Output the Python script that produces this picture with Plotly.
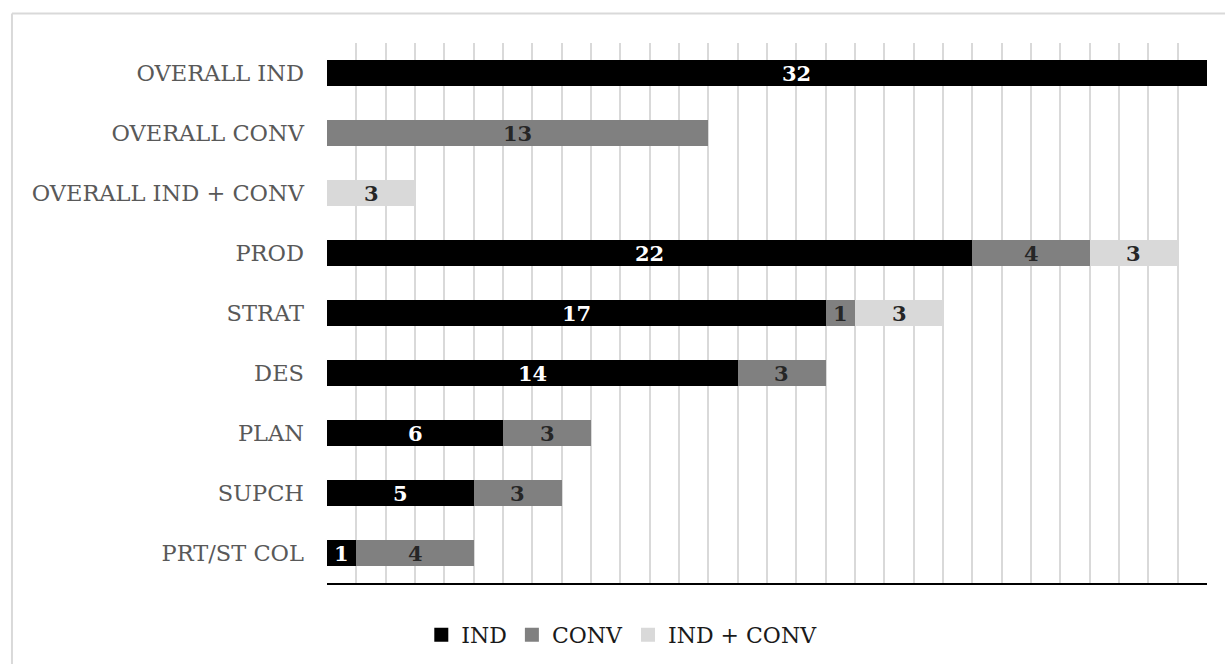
import plotly.graph_objects as go

# Categories, top to bottom
categories = ["OVERALL IND", "OVERALL CONV", "OVERALL IND + CONV", "PROD",
              "STRAT", "DES", "PLAN", "SUPCH", "PRT/ST COL"]

# Counts per series (None = no segment)
ind_vals = [32, None, None, 22, 17, 14, 6, 5, 1]
conv_vals = [None, 13, None, 4, 1, 3, 3, 3, 4]
both_vals = [None, None, 3, 3, 3, None, None, None, None]

series_names = ["IND", "CONV", "IND + CONV"]
series_data = [ind_vals, conv_vals, both_vals]
series_colors = ["#000000", "#808080", "#d9d9d9"]
label_colors = ["#ffffff", "#262626", "#262626"]

X_MAX = 30
FONT = "DejaVu Serif, Liberation Serif, serif"

fig = go.Figure()

# Stacked bars (legend handled by marker-only entries below)
for name, vals, col in zip(series_names, series_data, series_colors):
    fig.add_trace(go.Bar(
        y=categories, x=vals, name=name, orientation="h",
        marker=dict(color=col, line=dict(width=0)),
        width=0.43, showlegend=False, hoverinfo="x+name",
    ))

# Legend entries with square swatches
for name, col in zip(series_names, series_colors):
    fig.add_trace(go.Scatter(
        x=[None], y=[None], mode="markers", name=name,
        marker=dict(symbol="square", size=14, color=col),
        showlegend=True,
    ))

# Value labels centered on each segment
annotations = []
for i, cat in enumerate(categories):
    base = 0
    for vals, lc in zip(series_data, label_colors):
        v = vals[i]
        if v is None:
            continue
        annotations.append(dict(
            x=base + v / 2, y=cat, xref="x", yref="y",
            text=f"<b>{v}</b>", showarrow=False,
            font=dict(family=FONT, size=21, color=lc),
        ))
        base += v

# Chart-area border (top and left edges)
border = dict(color="#d9d9d9", width=2)
shapes = [
    dict(type="line", xref="paper", yref="paper",
         x0=-0.358, x1=1.2, y0=1.0546, y1=1.0546, line=border, layer="below"),
    dict(type="line", xref="paper", yref="paper",
         x0=-0.358, x1=-0.358, y0=1.0546, y1=-0.3, line=border, layer="below"),
]

fig.update_layout(
    barmode="stack",
    width=1225, height=664,
    margin=dict(l=327, r=18, t=43, b=81, autoexpand=False),
    paper_bgcolor="#ffffff", plot_bgcolor="#ffffff",
    font=dict(family=FONT, size=22, color="#595959"),
    xaxis=dict(
        range=[0, X_MAX], dtick=1, showticklabels=False,
        showgrid=True, gridcolor="#d9d9d9", gridwidth=1.5,
        zeroline=False, showline=True, linecolor="#000000", linewidth=2,
        fixedrange=True,
    ),
    yaxis=dict(
        categoryorder="array", categoryarray=categories, autorange="reversed",
        showgrid=False, zeroline=False, showline=False, ticks="",
        ticklabelstandoff=22,
        tickfont=dict(family=FONT, size=22.5, color="#595959"),
        fixedrange=True,
    ),
    legend=dict(
        orientation="h", x=0.335, xanchor="center", y=-0.096, yanchor="middle",
        traceorder="normal",
        font=dict(family=FONT, size=22, color="#1a1a1a"),
        itemwidth=30, bgcolor="rgba(0,0,0,0)",
    ),
    annotations=annotations,
    shapes=shapes,
    bargap=0.57,
)

fig.write_html("out.html")
